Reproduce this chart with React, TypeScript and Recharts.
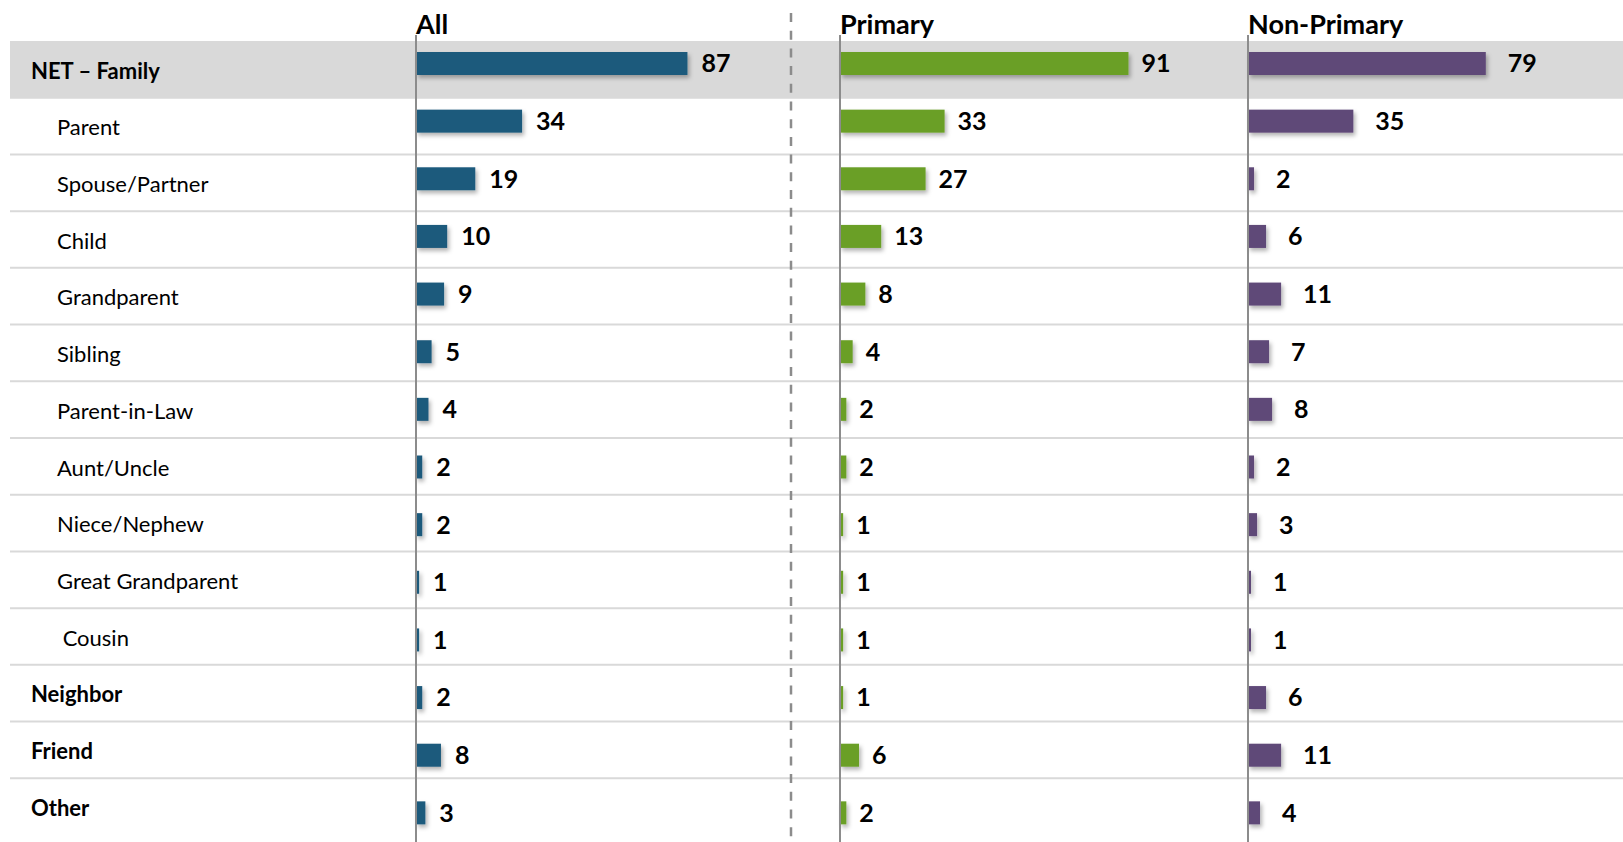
import React from "react";
import { Bar, BarChart, CartesianGrid, LabelList, ReferenceArea, XAxis, YAxis } from "recharts";

const categories = [
  "NET – Family",
  "Parent",
  "Spouse/Partner",
  "Child",
  "Grandparent",
  "Sibling",
  "Parent-in-Law",
  "Aunt/Uncle",
  "Niece/Nephew",
  "Great Grandparent",
  " Cousin",
  "Neighbor",
  "Friend",
  "Other",
];
const allValues = [87, 34, 19, 10, 9, 5, 4, 2, 2, 1, 1, 2, 8, 3];
const primaryValues = [91, 33, 27, 13, 8, 4, 2, 2, 1, 1, 1, 1, 6, 2];
const nonPrimaryValues = [79, 35, 2, 6, 11, 7, 8, 2, 3, 1, 1, 6, 11, 4];
const panelTitles = ["All", "Primary", "Non-Primary"];
const headlineRows = ["NET – Family", "Neighbor", "Friend", "Other"];

const rows = categories.map((name, i) => ({
  name,
  all: allValues[i],
  primary: primaryValues[i],
  nonPrimary: nonPrimaryValues[i],
}));

const FONT = "Lato, 'Open Sans', sans-serif";
const W = 1623;
const H = 842;

// one panel per respondent group; axisX = where the vertical axis sits
const panels = [
  { key: "all", title: panelTitles[0], color: "#1F5A7C", axisX: 415, plotWidth: 313, labelOffset: 14 },
  { key: "primary", title: panelTitles[1], color: "#6A9F28", axisX: 839, plotWidth: 318, labelOffset: 13 },
  { key: "nonPrimary", title: panelTitles[2], color: "#5F4878", axisX: 1247, plotWidth: 302, labelOffset: 22 },
];

function CategoryTick(props: any) {
  const { x, y, payload } = props;
  const bold = headlineRows.includes(payload.value);
  return (
    <text
      x={x + (bold ? 21 : 47)}
      y={y}
      dy="0.42em"
      textAnchor="start"
      fill="#000"
      fontFamily={FONT}
      fontSize={22}
      fontWeight={bold ? 700 : 400}
      style={{ whiteSpace: "pre" }}
    >
      {payload.value}
    </text>
  );
}

// row separators on the band edges
const bandEdges = ({ offset }: any) =>
  categories.slice(1).map((_, i) => offset.top + ((i + 1) * offset.height) / categories.length);

export default function App() {
  return (
    <div style={{ position: "absolute", left: 0, top: 0, width: W, height: H, background: "#fff", overflow: "hidden" }}>
      {/* background: grey band, separators, row labels */}
      <div style={{ position: "absolute", left: 0, top: 0 }}>
        <BarChart layout="vertical" width={W} height={H} data={rows} margin={{ top: 41, right: 0, bottom: 7, left: 9 }}>
          <XAxis type="number" domain={[0, 100]} hide />
          <YAxis
            type="category"
            dataKey="name"
            width={1}
            axisLine={false}
            tickLine={false}
            tickSize={0}
            tickMargin={0}
            interval={0}
            tick={(p: any) => <CategoryTick {...p} />}
          />
          <CartesianGrid vertical={false} stroke="#d9d9d9" strokeWidth={2} horizontalCoordinatesGenerator={bandEdges} />
          <ReferenceArea y1={categories[0]} y2={categories[0]} fill="#d9d9d9" fillOpacity={1} stroke="none" />
          {/* invisible series so the category axis has something to lay out */}
          <Bar dataKey="all" fillOpacity={0} isAnimationActive={false} legendType="none" />
        </BarChart>
      </div>

      {/* dashed divider between All and the two groups */}
      <svg width={6} height={H} style={{ position: "absolute", left: 788, top: 0 }}>
        <line x1={3} x2={3} y1={13} y2={H} stroke="#8c8c8c" strokeWidth={2.5} strokeDasharray="9 8.7" />
      </svg>

      {panels.map((p) => (
        <React.Fragment key={p.key}>
          <div
            style={{
              position: "absolute",
              left: p.axisX + 1,
              top: 10,
              fontFamily: FONT,
              fontWeight: 700,
              fontSize: 27,
              lineHeight: "27px",
              color: "#000",
              whiteSpace: "nowrap",
            }}
          >
            {p.title}
          </div>
          <div style={{ position: "absolute", left: p.axisX - 2, top: 0 }}>
            <BarChart
              layout="vertical"
              width={p.plotWidth + 2 + 90}
              height={H}
              data={rows}
              margin={{ top: 35, right: 90, bottom: 0, left: 2 }}
            >
              <defs>
                <filter id={`shadow-${p.key}`} filterUnits="userSpaceOnUse" x={0} y={0} width={p.plotWidth + 92} height={H}>
                  <feDropShadow dx={2} dy={3} stdDeviation={2} floodColor="#000" floodOpacity={0.3} />
                </filter>
              </defs>
              <XAxis type="number" domain={[0, 100]} hide />
              <YAxis
                type="category"
                dataKey="name"
                width={1}
                tick={false}
                tickLine={false}
                axisLine={{ stroke: "#8c8c8c", strokeWidth: 2 }}
              />
              <Bar
                dataKey={p.key}
                fill={p.color}
                barSize={23}
                isAnimationActive={false}
                shape={(s: any) => (
                  <rect
                    x={s.x}
                    y={s.y}
                    width={Math.max(s.width, 0)}
                    height={s.height}
                    fill={p.color}
                    filter={`url(#shadow-${p.key})`}
                  />
                )}
              >
                <LabelList
                  dataKey={p.key}
                  position="right"
                  offset={p.labelOffset}
                  fill="#000"
                  fontFamily={FONT}
                  fontSize={25}
                  fontWeight={700}
                />
              </Bar>
            </BarChart>
          </div>
        </React.Fragment>
      ))}
    </div>
  );
}
